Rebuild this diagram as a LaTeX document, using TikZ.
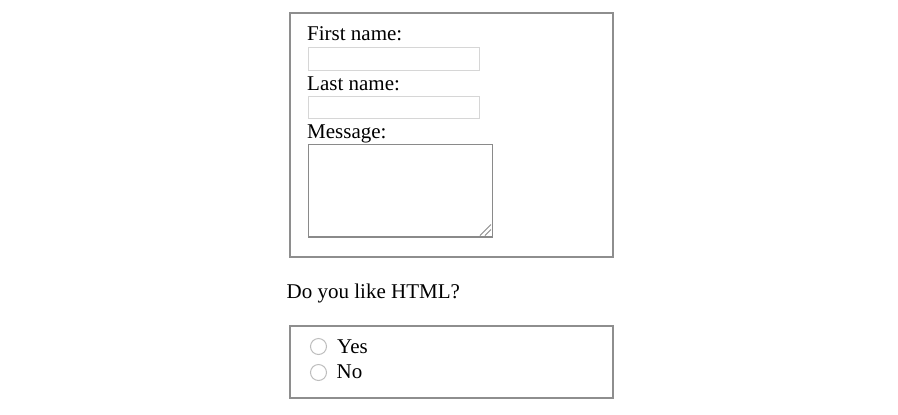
\documentclass[tikz,border=0pt]{standalone}
\usepackage{fontspec}
\setmainfont{Liberation Serif}
\definecolor{boxgray}{HTML}{8E8E8E}
\definecolor{inputgray}{HTML}{D6D6D6}
\definecolor{areagray}{HTML}{8A8A8A}
\definecolor{radiogray}{HTML}{BDBDBD}
\begin{document}
\begin{tikzpicture}[x=1bp,y=-1bp,
  lbl/.style={anchor=base west,inner sep=0pt,font=\fontsize{21bp}{24bp}\selectfont,text=black},
  fieldset/.style={draw=boxgray,line width=2bp},
  inbox/.style={draw=inputgray,line width=1bp},
  areabox/.style={draw=areagray,line width=1.2bp},
  radio/.style={circle,draw=radiogray,line width=1bp,minimum size=16bp,inner sep=0pt}]
\useasboundingbox (0,0) rectangle (898,414);
% first fieldset
\draw[fieldset] (289.5,13) rectangle (612.5,257);
\node[lbl] (fn) at (307,40) {First name:};
\draw[inbox] (308.5,47.5) rectangle (479.5,70.5);
\node[lbl] (ln) at (307,90) {Last name:};
\draw[inbox] (308.5,96.5) rectangle (479.5,118.5);
\node[lbl] (msg) at (307,138) {Message:};
\draw[areabox] (308.5,144.5) rectangle (492.5,237);
\draw[areagray,line width=0.8bp] (480,235.5) -- (491,224.5);
\draw[areagray,line width=0.8bp] (485,235.5) -- (491,229.5);
% question
\node[lbl] (q) at (286.5,298) {Do you like HTML?};
% second fieldset
\draw[fieldset] (289.5,325.5) rectangle (612.5,398);
\node[radio] (r1) at (318.5,346.5) {};
\node[lbl] (yes) at (337,353) {Yes};
\node[radio] (r2) at (318.5,372.5) {};
\node[lbl] (no) at (336.5,378) {No};
\end{tikzpicture}
\end{document}
